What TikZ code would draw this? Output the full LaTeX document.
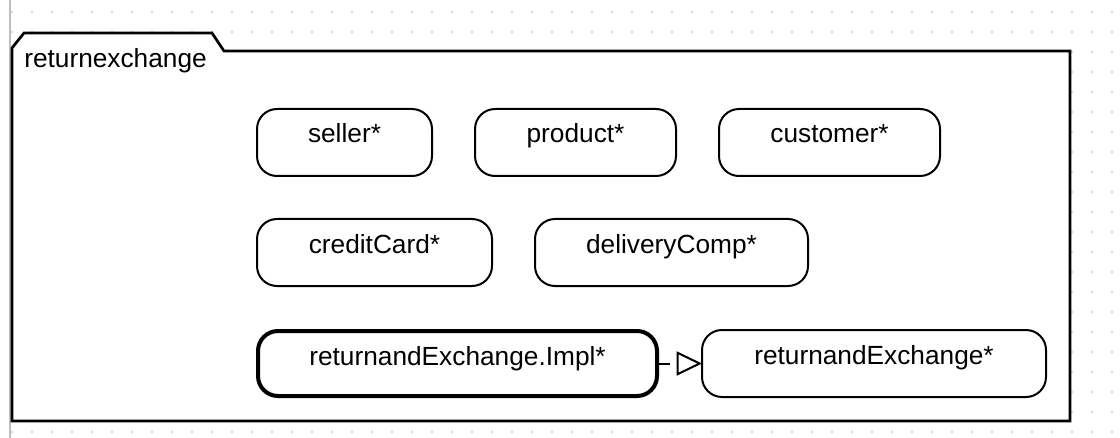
\documentclass[tikz,border=0pt]{standalone}
\usepackage{fontspec}
\setmainfont{Liberation Sans}
\usetikzlibrary{arrows.meta}
\tikzset{
  px/.style={x=0.75pt,y=-0.75pt},
  gridline/.style={draw=black!25,line width=1.5pt},
  griddot/.style={fill=black!22},
  pkgframe/.style={draw=black,fill=white,line width=2pt,line join=miter},
  pkglabel/.style={anchor=base west,inner sep=0pt,font=\fontsize{19.7pt}{23pt}\selectfont},
  partbox/.style={draw=black,fill=white,line width=1.5pt,rounded corners=15pt,
    anchor=north west,outer sep=0pt,inner ysep=0pt,inner xsep=0pt,
    text height=25.5pt,text depth=24.75pt,
    font=\fontsize{19.7pt}{23pt}\selectfont},
  implbox/.style={partbox,line width=3pt,text height=25.5pt,text depth=23.25pt},
  realize/.style={draw=black,line width=1.5pt,dash pattern=on 10pt off 20pt,
    -{Triangle[open,length=19pt,width=18pt,line width=1.5pt]}},
}
\begin{document}
\begin{tikzpicture}[px]
\useasboundingbox (0,0) rectangle (1120,438);
% dotted background grid
\foreach \i in {0,...,55}{
  \foreach \j in {0,...,21}{
    \fill[griddot] ({12+20*\i},{12+20*\j}) circle (1.1);
  }
}
% left grey border
\draw[gridline] (9.5,0) -- (9.5,438);
% package frame
\draw[pkgframe] (12,421) -- (12,48) -- (24,33) -- (212,33) -- (224,51) -- (1070,51) -- (1070,421) -- cycle;
\node[pkglabel] (pkg) at (24,68) {returnexchange};
% parts
\node[partbox,minimum width=131.25pt] (seller) at (257,109) {seller*};
\node[partbox,minimum width=150.75pt] (product) at (475,109) {product*};
\node[partbox,minimum width=165.75pt] (customer) at (719,109) {customer*};
\node[partbox,minimum width=176.25pt] (credit) at (257,219) {creditCard*};
\node[partbox,minimum width=204.75pt] (delivery) at (535,219) {deliveryComp*};
\node[implbox,minimum width=299.25pt] (impl) at (258,331) {returnandExchange.Impl*};
\node[partbox,minimum width=258pt] (rex) at (702,330) {returnandExchange*};
% realization
\draw[realize] (impl.east) -- (rex.west);
\end{tikzpicture}
\end{document}
